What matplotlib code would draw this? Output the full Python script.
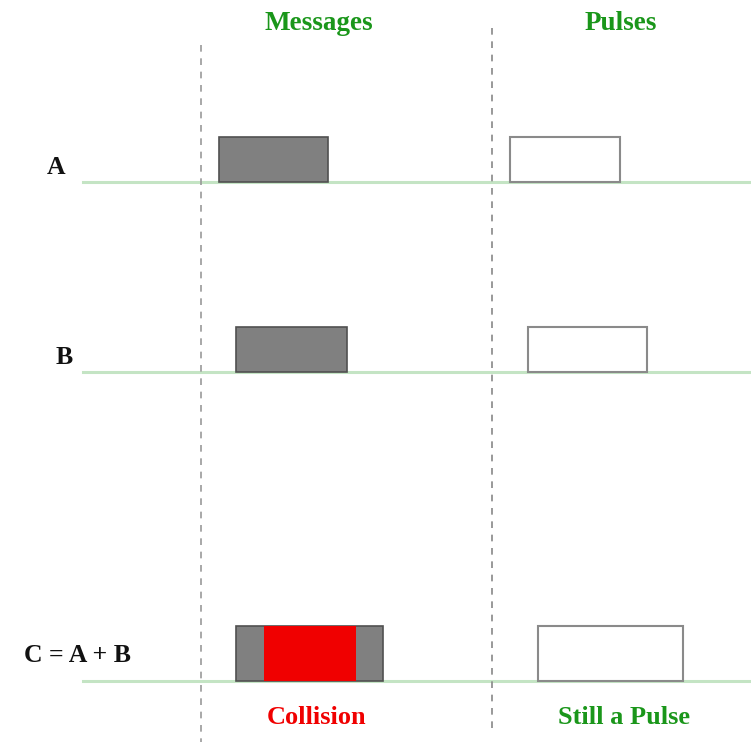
import matplotlib.pyplot as plt
from matplotlib.patches import Rectangle

# row labels and baselines (pixel space of the original diagram)
row_labels = ['A', 'B', 'C = A + B']
label_x = [56, 64, 77]
label_y = [167, 357, 656]
baseline_y = [182, 372, 681]

# message boxes (left, right, top) per row
msg_left = [219, 236, 236]
msg_right = [328, 347, 383]
msg_top = [137, 327, 626]

# collision region in row C
coll_left, coll_right = 264, 356

# pulse boxes
pulse_left = [510, 528, 538]
pulse_right = [620, 647, 683]
pulse_top = [137, 327, 626]

# column headers / footers
headers = ['Messages', 'Pulses']
header_x = [319, 621]
footers = ['Collision', 'Still a Pulse']
footer_x = [317, 624]
footer_colors = ['#f00000', '#1a961a']

green = '#1a961a'

fig = plt.figure(figsize=(7.51, 7.42), dpi=100)
ax = fig.add_axes([0, 0, 1, 1])
ax.set_xlim(0, 751)
ax.set_ylim(742, 0)
ax.axis('off')

font = dict(family='Liberation Serif', weight='bold')

# dashed separators
ax.plot([201, 201], [45, 742], ls=(0, (4, 4)), color='#999999', lw=1.2)
ax.plot([492, 492], [28, 732], ls=(0, (4, 4)), color='#888888', lw=1.2)

for i in range(3):
    ax.plot([83, 751], [baseline_y[i], baseline_y[i]], color='#c4e4c4', lw=2.2, zorder=1)
    ax.text(label_x[i], label_y[i], row_labels[i], ha='center', va='center',
            fontsize=18.5, color='#111111', **font)
    h = baseline_y[i] - msg_top[i]
    ax.add_patch(Rectangle((msg_left[i], msg_top[i]), msg_right[i] - msg_left[i], h,
                           facecolor='#808080', edgecolor='#505050', lw=1.2, zorder=2))
    h = baseline_y[i] - pulse_top[i]
    ax.add_patch(Rectangle((pulse_left[i], pulse_top[i]), pulse_right[i] - pulse_left[i], h,
                           facecolor='white', edgecolor='#8a8a8a', lw=1.5, zorder=2))

ax.add_patch(Rectangle((coll_left, msg_top[2]), coll_right - coll_left, baseline_y[2] - msg_top[2],
                       facecolor='#f00000', edgecolor='none', zorder=3))

for t, x in zip(headers, header_x):
    ax.text(x, 23, t, ha='center', va='center', fontsize=19.5, color=green, **font)
for t, x, c in zip(footers, footer_x, footer_colors):
    ax.text(x, 718, t, ha='center', va='center', fontsize=19, color=c, **font)

fig.savefig('out.png', dpi=100)
